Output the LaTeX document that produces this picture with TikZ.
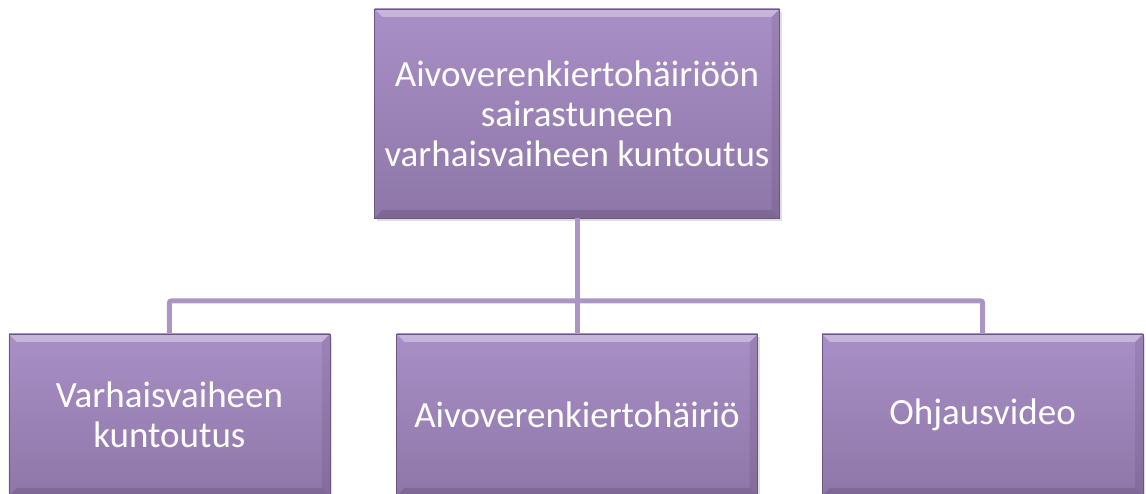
\documentclass[tikz,border=0pt]{standalone}
\usepackage{fontspec}
\setmainfont{Carlito}
\usepackage{tikz}
\usetikzlibrary{positioning,shadows}
\definecolor{boxtop}{HTML}{A88FC6}
\definecolor{boxbottom}{HTML}{8E77A8}
\definecolor{boxedge}{HTML}{6A5585}
\definecolor{linkline}{HTML}{A996C5}

\begin{document}
\begin{tikzpicture}[x=1pt,y=-1pt,node distance=66pt,line width=5pt]
\tikzstyle{box}=[rectangle,top color=boxtop,bottom color=boxbottom,draw=boxedge,line width=0.6pt,
text=white,align=center,font=\fontsize{37}{40}\selectfont,inner sep=0pt,
drop shadow={shadow xshift=2pt,shadow yshift=-3pt,opacity=0.25},
path picture={
\fill[white,opacity=0.35] (path picture bounding box.north west) -- (path picture bounding box.north east)
 -- ([xshift=-8pt,yshift=-8pt]path picture bounding box.north east) -- ([xshift=8pt,yshift=-8pt]path picture bounding box.north west) -- cycle;
\fill[black,opacity=0.12] (path picture bounding box.south west) -- (path picture bounding box.south east)
 -- ([xshift=-8pt,yshift=8pt]path picture bounding box.south east) -- ([xshift=8pt,yshift=8pt]path picture bounding box.south west) -- cycle;
\fill[black,opacity=0.08] (path picture bounding box.north east) -- (path picture bounding box.south east)
 -- ([xshift=-8pt,yshift=8pt]path picture bounding box.south east) -- ([xshift=-8pt,yshift=-8pt]path picture bounding box.north east) -- cycle;
}]
\tikzstyle{link}=[draw=linkline,line width=5pt,rounded corners=2pt]

\useasboundingbox (0,0) rectangle (1146,494);

\node[box,minimum width=361pt,minimum height=162pt] (mid) at (577,415) {Aivoverenkiertohäiriö};
\node[box,minimum width=321pt,minimum height=162pt] (varh) [left=66pt of mid] {Varhaisvaiheen\\kuntoutus};
\node[box,minimum width=321pt,minimum height=162pt] (video) [right=64pt of mid] {Ohjausvideo};
\node[box,minimum width=405pt,minimum height=209pt] (main) at (577,113.5) {Aivoverenkiertohäiriöön\\sairastuneen\\varhaisvaiheen kuntoutus};

\coordinate (bus) at (577,301);
\path[link] (main.south) -- (mid.north);
\path[link] (varh.north) |- (bus) -| (video.north);
\end{tikzpicture}
\end{document}
